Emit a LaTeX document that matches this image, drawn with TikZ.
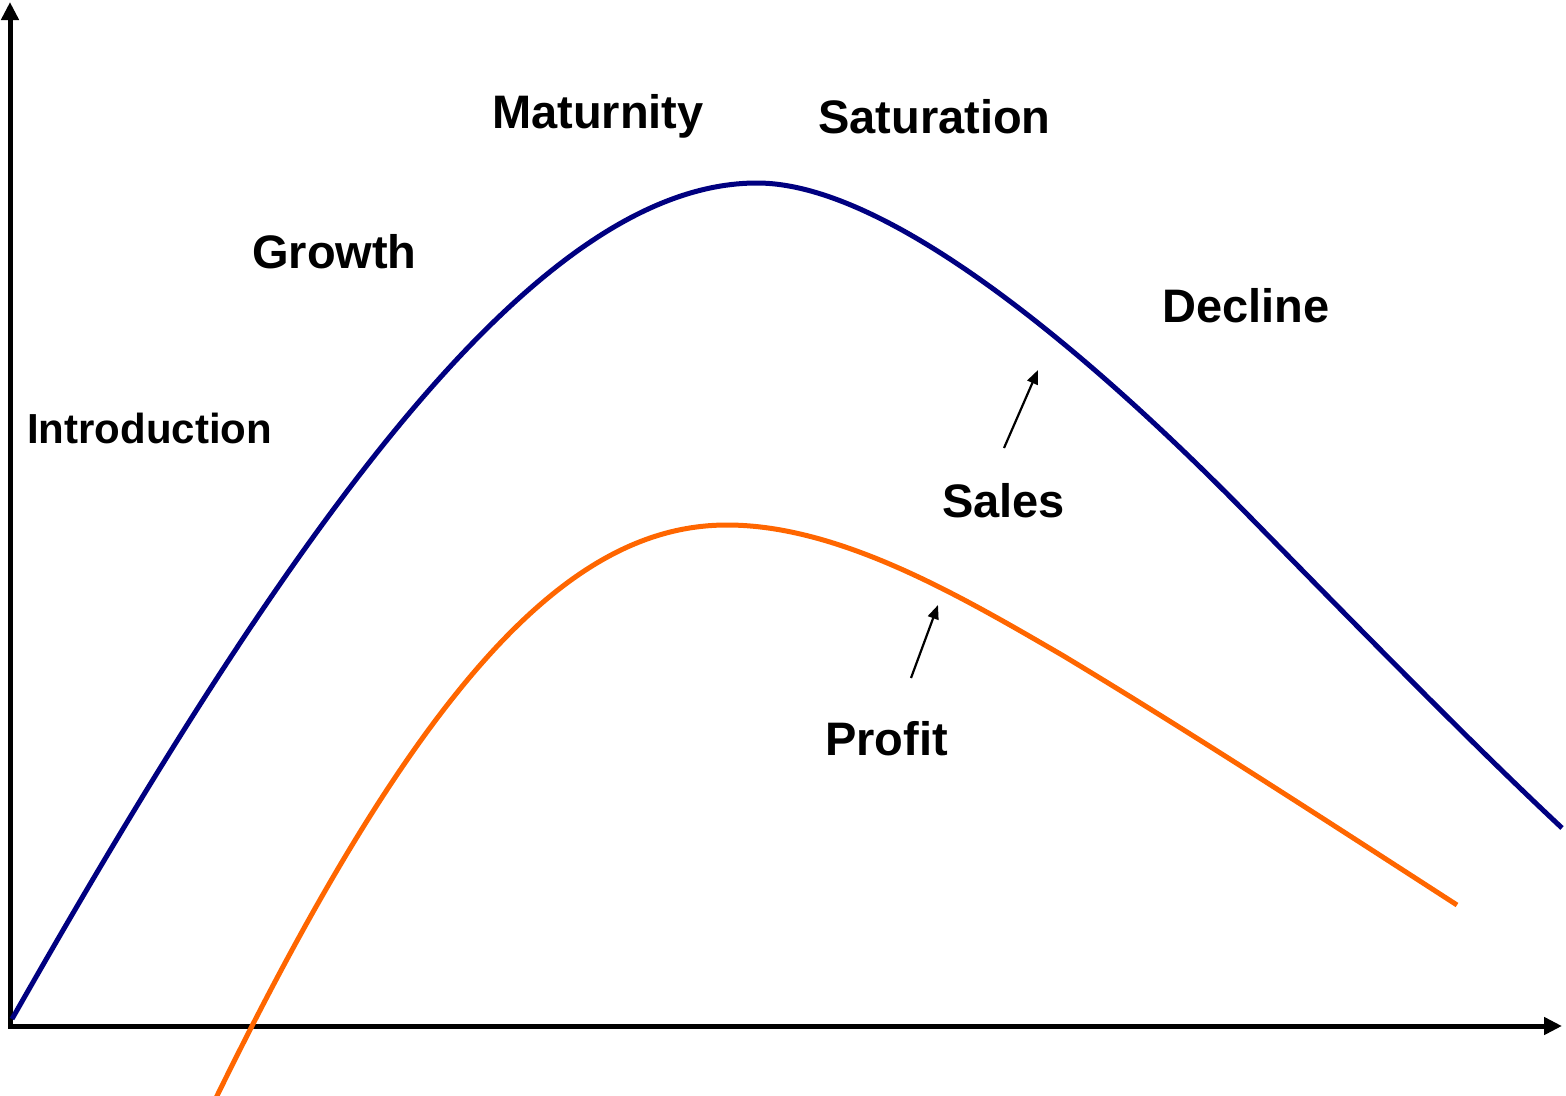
\documentclass[tikz,border=0pt]{standalone}
\usepackage{fontspec}
\setmainfont{Liberation Sans}
\usetikzlibrary{arrows.meta}
\definecolor{salesblue}{RGB}{0,0,128}
\definecolor{profitorange}{RGB}{255,102,0}
\tikzset{
  axis/.style={line width=5pt, -{Triangle[width=17pt,length=18pt]}},
  salescurve/.style={line width=5pt, salesblue},
  profitcurve/.style={line width=5pt, profitorange},
  pointer/.style={line width=2.2pt, -{Triangle[width=11pt,length=14pt]}},
  stage/.style={font=\fontsize{47}{56}\selectfont\bfseries, anchor=base west, inner sep=0pt},
  smallstage/.style={font=\fontsize{42}{50}\selectfont\bfseries, anchor=base west, inner sep=0pt}
}
\begin{document}
\begin{tikzpicture}[x=1pt,y=-1pt]
\useasboundingbox (0,0) rectangle (1566,1095);
% axes
\coordinate (ytop) at (10,2);
\coordinate (xend) at (1562,1026);
\draw[axis] (10,1028) -- (ytop);
\draw[axis] (8,1026) -- (xend);
% sales curve
\draw[salescurve] (12,1019) .. controls (290,530) and (535,183) .. (757,183)
  .. controls (900,183) and (1120,384) .. (1250,517)
  .. controls (1350,619) and (1470,742) .. (1562,828);
% profit curve
\begin{scope}
\clip (0,0) rectangle (1566,1095);
\draw[profitcurve] (214,1102) .. controls (420,680) and (570,525) .. (727,525)
  .. controls (840,525) and (962,597) .. (1062,655)
  .. controls (1190,732) and (1330,823) .. (1457,905);
\end{scope}
% labels
\node[smallstage] (intro) at (27,443) {Introduction};
\node[stage] (growth) at (252,268) {Growth};
\node[stage] (maturity) at (492,128) {Maturnity};
\node[stage] (saturation) at (818,133) {Saturation};
\node[stage] (decline) at (1162,322) {Decline};
\node[stage] (sales) at (942,517) {Sales};
\node[stage] (profit) at (825,755) {Profit};
% pointers
\coordinate (salestail) at (1004,448);
\coordinate (saleshead) at (1038,370);
\coordinate (profittail) at (911,678);
\coordinate (profithead) at (938,605);
\draw[pointer] (salestail) -- (saleshead);
\draw[pointer] (profittail) -- (profithead);
\end{tikzpicture}
\end{document}
